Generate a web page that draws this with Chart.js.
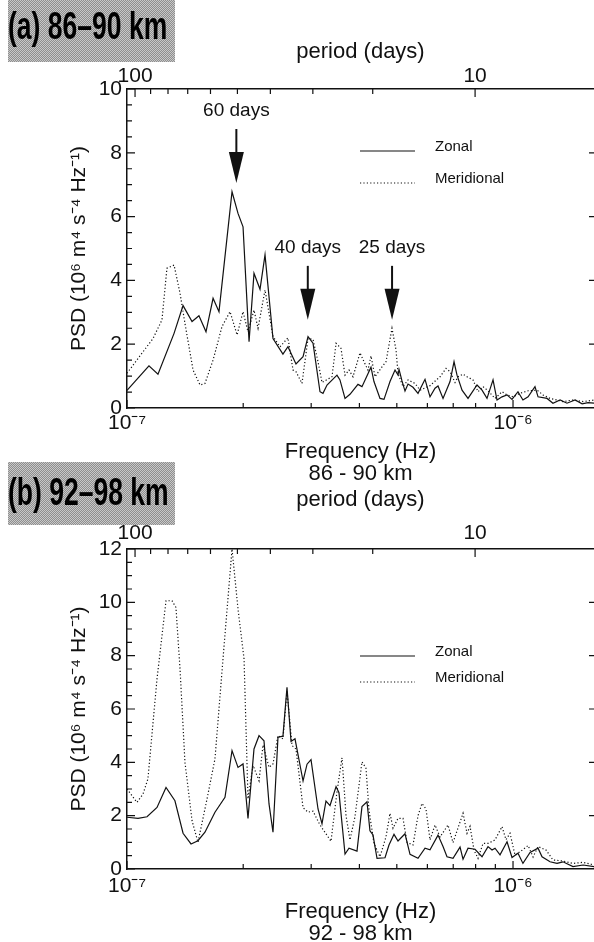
<!DOCTYPE html>
<html>
<head>
<meta charset="utf-8">
<script src="https://cdn.jsdelivr.net/npm/chart.js@4.4.0/dist/chart.umd.min.js"></script>
<style>
  html, body { margin: 0; padding: 0; background: #fff; }
  body { width: 594px; height: 942px; overflow: hidden; position: relative; }
  canvas { position: absolute; left: 0; }
  #cA { top: 0; }
  #cB { top: 450px; }
  .tag { position: absolute; left: 8px; width: 167px; overflow: hidden;
         background: repeating-conic-gradient(#8e8e8e 0 25%, #c8c8c8 0 50%) 0 0 / 2px 2px; }
  .tag span { position: absolute; left: 0; color: #000; white-space: nowrap; line-height: 1;
              font: bold 39px 'Liberation Sans', Arial, sans-serif;
              transform: scaleX(0.68); transform-origin: 0 0; }
</style>
</head>
<body>
<canvas id="cA" width="594" height="490"></canvas>
<canvas id="cB" width="594" height="510"></canvas>
<div class="tag" style="top:0;height:62px"><span style="top:4px">(a) 86–90 km</span></div>
<div class="tag" style="top:462px;height:63px"><span style="top:8px">(b) 92–98 km</span></div>
<script>
// frequency in units of 1e-7 Hz, PSD in 10^6 m^4 s^-4 Hz^-1

// (a) 86-90 km
const zonalFreqA = [1.000, 1.140, 1.203, 1.324, 1.397, 1.474, 1.536, 1.602, 1.671, 1.731, 1.871, 1.939, 1.998, 2.071, 2.133, 2.211, 2.278, 2.389, 2.535, 2.612, 2.740, 2.858, 2.944, 3.033, 3.162, 3.219, 3.297, 3.499, 3.562, 3.671, 3.781, 3.966, 4.062, 4.286, 4.363, 4.523, 4.632, 4.801, 4.947, 5.036, 5.066, 5.157, 5.250, 5.346, 5.507, 5.674, 5.916, 6.095, 6.280, 6.393, 6.587, 6.868, 7.034, 7.160, 7.378, 7.646, 8.067, 8.312, 8.563, 8.876, 9.090, 9.365, 9.649, 9.940, 10.30, 10.61, 10.94, 11.40, 11.61, 12.25, 12.69, 13.24, 13.80, 14.48, 15.10, 15.65, 16.21];
const zonalPsdA  = [0.55, 1.32, 1.06, 2.34, 3.21, 2.71, 2.89, 2.39, 3.44, 3.02, 6.78, 6.10, 5.68, 2.08, 4.22, 3.72, 4.80, 2.18, 1.69, 1.92, 1.38, 1.61, 2.24, 2.03, 0.51, 0.46, 0.72, 1.03, 0.88, 0.30, 0.43, 0.74, 0.67, 1.28, 0.83, 0.30, 0.27, 0.83, 1.19, 1.03, 1.21, 0.85, 0.53, 0.75, 0.65, 0.46, 0.90, 0.35, 0.62, 0.69, 0.30, 0.83, 1.45, 1.03, 0.56, 0.30, 0.72, 0.56, 0.30, 0.88, 0.25, 0.35, 0.41, 0.27, 0.51, 0.25, 0.35, 0.67, 0.35, 0.30, 0.15, 0.25, 0.15, 0.25, 0.13, 0.17, 0.15];
const meridFreqA = [1.000, 1.168, 1.232, 1.269, 1.324, 1.372, 1.413, 1.483, 1.546, 1.592, 1.671, 1.762, 1.849, 1.928, 1.998, 2.058, 2.133, 2.185, 2.278, 2.389, 2.491, 2.612, 2.692, 2.740, 2.840, 2.944, 3.033, 3.125, 3.200, 3.397, 3.480, 3.584, 3.671, 3.759, 3.850, 4.014, 4.111, 4.210, 4.286, 4.390, 4.577, 4.688, 4.858, 4.976, 5.036, 5.188, 5.346, 5.574, 5.742, 6.095, 6.470, 6.706, 6.868, 7.076, 7.203, 7.422, 7.600, 7.878, 8.116, 8.362, 8.614, 8.982, 9.365, 9.649, 10.00, 10.42, 10.94, 11.54, 11.96, 12.47, 13.00, 13.47, 14.30, 15.19, 16.21];
const meridPsdA  = [1.09, 2.18, 2.76, 4.38, 4.48, 3.60, 2.65, 1.19, 0.72, 0.77, 1.50, 2.55, 3.02, 2.29, 3.02, 2.39, 3.07, 2.50, 3.70, 2.24, 1.92, 2.20, 1.19, 1.14, 0.77, 2.18, 2.15, 1.45, 0.80, 0.98, 2.03, 1.87, 1.03, 1.19, 0.98, 1.73, 1.45, 1.19, 1.63, 0.98, 1.29, 1.45, 2.50, 1.82, 1.09, 0.67, 0.88, 0.77, 0.56, 0.70, 0.98, 1.24, 1.14, 0.80, 0.98, 1.06, 0.98, 0.88, 0.51, 0.67, 0.54, 0.30, 0.51, 0.41, 0.35, 0.46, 0.54, 0.56, 0.41, 0.30, 0.25, 0.20, 0.25, 0.20, 0.25];

// (b) 92-98 km
const zonalFreqB = [1.000, 1.068, 1.127, 1.196, 1.262, 1.331, 1.397, 1.465, 1.527, 1.592, 1.690, 1.794, 1.871, 1.939, 1.998, 2.058, 2.133, 2.198, 2.264, 2.333, 2.389, 2.461, 2.535, 2.597, 2.660, 2.724, 2.858, 2.927, 2.997, 3.125, 3.200, 3.277, 3.357, 3.480, 3.541, 3.671, 3.759, 3.943, 4.062, 4.185, 4.260, 4.337, 4.443, 4.660, 4.772, 4.917, 5.036, 5.250, 5.410, 5.674, 5.916, 6.095, 6.393, 6.587, 6.745, 6.992, 7.290, 7.422, 7.646, 7.972, 8.312, 8.614, 8.823, 8.982, 9.254, 9.649, 9.940, 10.30, 10.61, 11.07, 11.61, 11.89, 12.47, 13.00, 13.47, 14.30, 15.19, 16.21];
const zonalPsdB  = [1.94, 1.90, 1.96, 2.31, 3.06, 2.56, 1.34, 0.94, 1.06, 1.38, 2.13, 2.69, 4.44, 3.81, 3.94, 1.90, 4.50, 5.00, 4.81, 2.44, 1.38, 4.94, 4.98, 6.81, 4.78, 4.88, 3.30, 3.93, 4.10, 2.25, 1.70, 2.55, 2.38, 3.09, 2.86, 0.56, 0.78, 0.67, 2.34, 2.52, 1.43, 1.28, 0.40, 0.42, 0.90, 1.30, 1.05, 1.32, 0.55, 0.40, 0.78, 0.72, 1.27, 0.84, 0.46, 0.40, 0.82, 0.37, 0.78, 0.74, 0.46, 0.84, 0.71, 0.78, 0.53, 1.02, 0.43, 0.59, 0.21, 0.62, 0.78, 0.46, 0.27, 0.21, 0.27, 0.09, 0.15, 0.09];
const meridFreqB = [1.000, 1.061, 1.100, 1.133, 1.196, 1.262, 1.308, 1.339, 1.372, 1.413, 1.474, 1.527, 1.612, 1.690, 1.773, 1.871, 1.939, 2.010, 2.058, 2.121, 2.198, 2.251, 2.333, 2.389, 2.461, 2.535, 2.597, 2.676, 2.740, 2.858, 2.944, 3.033, 3.162, 3.377, 3.499, 3.606, 3.693, 3.781, 3.896, 4.062, 4.160, 4.235, 4.363, 4.523, 4.688, 4.801, 4.888, 5.036, 5.188, 5.313, 5.507, 5.674, 5.810, 5.951, 6.095, 6.280, 6.470, 6.786, 6.992, 7.246, 7.422, 7.600, 7.739, 7.925, 8.116, 8.362, 8.614, 8.982, 9.365, 9.592, 9.822, 10.12, 10.55, 10.94, 11.27, 11.61, 12.18, 12.69, 13.47, 14.30, 15.19, 16.21];
const meridPsdB  = [3.00, 2.50, 2.81, 3.38, 7.13, 10.06, 10.06, 9.81, 7.50, 4.00, 1.81, 1.00, 2.63, 4.13, 7.88, 12.0, 9.75, 7.88, 2.63, 3.88, 3.31, 4.65, 3.81, 3.94, 5.00, 4.88, 6.69, 4.63, 4.50, 2.30, 2.13, 2.17, 1.65, 1.04, 2.90, 4.17, 2.00, 1.09, 1.96, 4.02, 3.78, 2.21, 0.96, 0.46, 1.21, 2.09, 1.53, 1.90, 1.90, 1.00, 0.90, 2.00, 2.46, 2.25, 1.09, 1.65, 1.20, 1.65, 0.99, 1.65, 2.09, 1.34, 1.60, 0.70, 0.40, 0.96, 0.96, 1.09, 1.59, 1.10, 1.34, 0.52, 0.70, 0.88, 0.45, 0.84, 0.71, 0.34, 0.30, 0.21, 0.25, 0.15];

const seriesLabels = ['Zonal', 'Meridional'];
const freqTickLabels = {1: '10⁻⁷', 10: '10⁻⁶'};
const periodLabelTicks = [100, 10];
const periodMinorTicks = [90, 80, 70, 60, 50, 40, 30, 20];
const arrowLabels = ['60 days', '40 days', '25 days'];
const arrowFreq = [1.92, 2.94, 4.86];
const arrowLabelPsd = [9.31, 5.02, 5.02];

const FONT = "'Liberation Sans', Arial, sans-serif";
const INK = '#111';

function pts(f, v) {
    return f.map(function(x, i){ return {x: x, y: v[i]}; });
}

// inward tick marks, legend, arrows
const framePlugin = {
    id: 'frame',
    afterDatasetsDraw: function(chart, args, opts) {
        var ctx = chart.ctx, a = chart.chartArea;
        var x = chart.scales.x, x2 = chart.scales.x2, y = chart.scales.y;
        ctx.save();
        ctx.strokeStyle = INK;
        ctx.lineWidth = 1.2;
        ctx.setLineDash([]);
        ctx.beginPath();
        for (var v = 1; v <= 10; v++) {
            var px = x.getPixelForValue(v), l = (v === 1 || v === 10) ? 8 : 5;
            ctx.moveTo(px, a.bottom); ctx.lineTo(px, a.bottom - l);
        }
        periodLabelTicks.concat(periodMinorTicks).forEach(function(p){
            var px = x2.getPixelForValue(p), l = periodLabelTicks.indexOf(p) >= 0 ? 8 : 5;
            ctx.moveTo(px, a.top); ctx.lineTo(px, a.top + l);
        });
        for (var k = 0; k <= y.max * 2; k++) {
            var val = k / 2, py = y.getPixelForValue(val), major = (k % 4 === 0);
            ctx.moveTo(a.left, py); ctx.lineTo(a.left + (major ? 8 : 5), py);
            if (major && val > 0 && val < y.max) {
                ctx.moveTo(a.right, py); ctx.lineTo(a.right - 5, py);
            }
        }
        ctx.stroke();

        // legend
        ctx.font = '15px ' + FONT;
        ctx.fillStyle = INK;
        ctx.textBaseline = 'middle';
        ctx.textAlign = 'left';
        chart.data.datasets.forEach(function(ds, i){
            var ly = a.top + opts.legendTop + i * opts.legendGap;
            ctx.beginPath();
            ctx.lineWidth = ds.borderWidth;
            ctx.setLineDash(ds.borderDash || []);
            ctx.moveTo(a.left + 233, ly); ctx.lineTo(a.left + 288, ly);
            ctx.stroke();
            ctx.fillText(ds.label, a.left + 308, ly - 4);
        });
        ctx.setLineDash([]);

        // arrows
        if (opts.arrows) {
            ctx.font = '19px ' + FONT;
            ctx.textAlign = 'center';
            arrowLabels.forEach(function(lbl, i){
                var ax = x.getPixelForValue(arrowFreq[i]);
                var ty = y.getPixelForValue(arrowLabelPsd[i]);
                ctx.fillText(lbl, ax, ty);
                ctx.lineWidth = 2;
                ctx.beginPath();
                ctx.moveTo(ax, ty + 18); ctx.lineTo(ax, ty + 42);
                ctx.stroke();
                ctx.beginPath();
                ctx.moveTo(ax - 7.5, ty + 41); ctx.lineTo(ax + 7.5, ty + 41); ctx.lineTo(ax, ty + 72);
                ctx.closePath();
                ctx.fill();
            });
        }
        ctx.restore();
    }
};

function makeChart(id, cfg) {
    return new Chart(document.getElementById(id), {
        type: 'line',
        data: {
            datasets: [
                { label: seriesLabels[0], data: pts(cfg.zf, cfg.zv), borderColor: INK, borderWidth: 1.2,
                  pointRadius: 0, tension: 0, fill: false },
                { label: seriesLabels[1], data: pts(cfg.mf, cfg.mv), borderColor: INK, borderWidth: 1.2,
                  borderDash: [1.2, 2.2], pointRadius: 0, tension: 0, fill: false }
            ]
        },
        options: {
            responsive: false,
            animation: false,
            layout: { padding: 0 },
            plugins: {
                legend: { display: false },
                tooltip: { enabled: false },
                frame: { legendTop: cfg.legendTop, legendGap: cfg.legendGap, arrows: cfg.arrows }
            },
            scales: {
                x: {
                    type: 'logarithmic', position: 'bottom', min: 1, max: 16.21,
                    grid: { display: false, drawTicks: false },
                    border: { display: true, color: INK, width: 1.5 },
                    afterBuildTicks: function(s){ s.ticks = [1, 10].map(function(v){ return {value: v}; }); },
                    afterFit: function(s){ s.height = cfg.bottomH; },
                    ticks: { autoSkip: false, maxRotation: 0, padding: cfg.xTickPad, color: INK,
                             font: { family: FONT, size: 21 },
                             callback: function(v){ return freqTickLabels[v] || ''; } },
                    title: { display: true, text: ['Frequency (Hz)', cfg.km], color: INK,
                             font: { family: FONT, size: 22, lineHeight: 1 },
                             padding: { top: 0, bottom: cfg.xTitlePad } }
                },
                x2: {
                    type: 'logarithmic', position: 'top', reverse: true, min: 4.47, max: 105.6,
                    grid: { display: false, drawTicks: false },
                    border: { display: true, color: INK, width: 1.5 },
                    afterBuildTicks: function(s){ s.ticks = periodLabelTicks.map(function(v){ return {value: v}; }); },
                    afterFit: function(s){ s.height = cfg.topH; },
                    ticks: { autoSkip: false, maxRotation: 0, padding: cfg.x2TickPad, color: INK,
                             font: { family: FONT, size: 21 },
                             callback: function(v){ return String(v); } },
                    title: { display: true, text: 'period (days)', color: INK,
                             font: { family: FONT, size: 22 },
                             padding: { top: cfg.x2TitlePad, bottom: 0 } }
                },
                y: {
                    min: 0, max: cfg.yMax,
                    grid: { display: false, drawTicks: false },
                    border: { display: true, color: INK, width: 1.5 },
                    afterFit: function(s){ s.width = 127; },
                    ticks: { stepSize: 2, padding: 5, color: INK, font: { family: FONT, size: 21 } },
                    title: { display: true, text: 'PSD (10⁶ m⁴ s⁻⁴ Hz⁻¹)', color: INK,
                             font: { family: FONT, size: 21 },
                             padding: { top: 67, bottom: 0 } }
                }
            }
        },
        plugins: [framePlugin]
    });
}

makeChart('cA', {
    zf: zonalFreqA, zv: zonalPsdA, mf: meridFreqA, mv: meridPsdA,
    yMax: 10, km: '86 - 90 km', topH: 89, bottomH: 82,
    xTickPad: 3, xTitlePad: 5, x2TickPad: 0, x2TitlePad: 39,
    legendTop: 62, legendGap: 32, arrows: true
});
makeChart('cB', {
    zf: zonalFreqB, zv: zonalPsdB, mf: meridFreqB, mv: meridPsdB,
    yMax: 12, km: '92 - 98 km', topH: 99, bottomH: 91,
    xTickPad: 5, xTitlePad: 15, x2TickPad: 3, x2TitlePad: 37,
    legendTop: 107, legendGap: 26, arrows: false
});
</script>
</body>
</html>
